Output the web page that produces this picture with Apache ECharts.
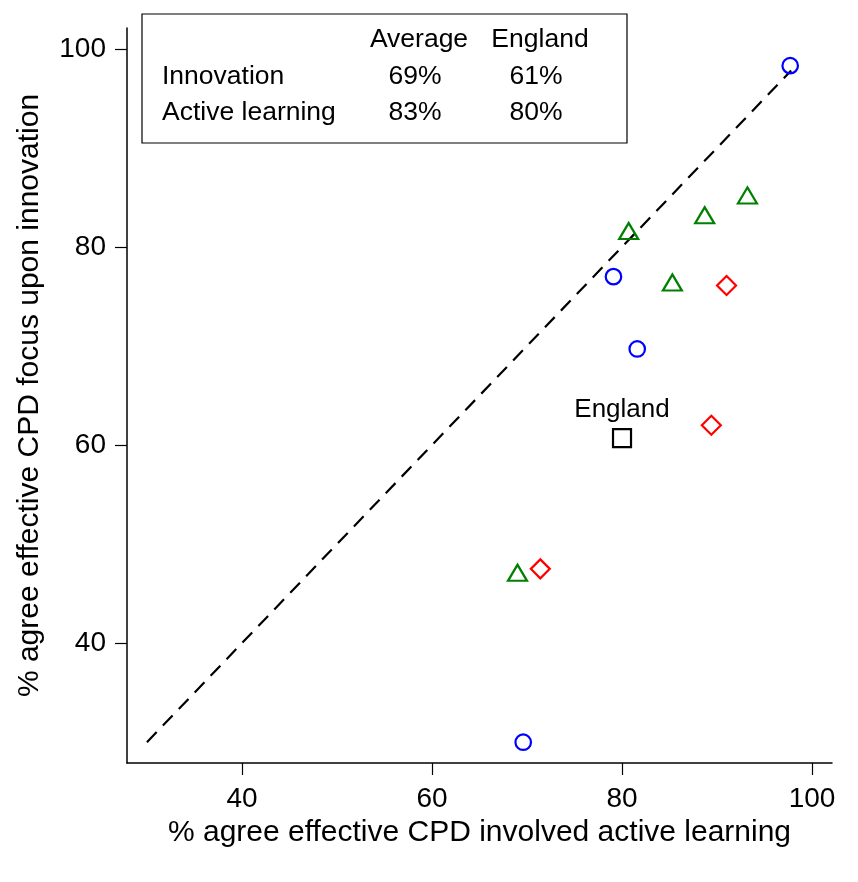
<!DOCTYPE html>
<html>
<head>
<meta charset="utf-8">
<script src="https://cdn.jsdelivr.net/npm/echarts@6/dist/echarts.min.js"></script>
<style>
  html, body { margin: 0; padding: 0; background: #fff; }
  #chart { width: 858px; height: 882px; }
</style>
</head>
<body>
<div id="chart"></div>
<script>
// points: [active learning %, innovation %]
const bluePoints = [[97.7, 98.3], [79.1, 77.0], [81.6, 69.7], [69.6, 30.0]];
const greenPoints = [[80.7, 81.6], [88.7, 83.2], [93.2, 85.2], [85.3, 76.4], [69.0, 47.1]];
const redPoints = [[91.0, 76.1], [89.4, 62.0], [71.4, 47.5]];
const englandPoint = [[80.0, 60.7]];
const equalLine = [[30, 30], [97.8, 97.8]];

const tickValues = [40, 60, 80, 100];

const tableHeader = ['Average', 'England'];
const tableRows = ['Innovation', 'Active learning'];
const tableValues = [['69%', '61%'], ['83%', '80%']];

const FONT = 'Liberation Sans, Arial, sans-serif';

const chart = echarts.init(document.getElementById('chart'));

function hollow(color) {
    return { color: 'rgba(0,0,0,0)', borderColor: color, borderWidth: 2.2, opacity: 1 };
}

// table in the top-left corner
const tableGraphics = [
    {
        type: 'rect',
        shape: { x: 142, y: 14, width: 485, height: 129 },
        style: { fill: '#fff', stroke: '#000', lineWidth: 1.2 }
    }
];
const colX = [419, 540];
const rowY = [77, 113];
tableHeader.forEach((h, i) => {
    tableGraphics.push({
        type: 'text', x: colX[i], y: 40,
        style: { text: h, font: '26.5px ' + FONT, fill: '#000', align: 'center', verticalAlign: 'middle' }
    });
});
tableRows.forEach((r, j) => {
    tableGraphics.push({
        type: 'text', x: 162, y: rowY[j],
        style: { text: r, font: '26.5px ' + FONT, fill: '#000', align: 'left', verticalAlign: 'middle' }
    });
    tableValues[j].forEach((v, i) => {
        tableGraphics.push({
            type: 'text', x: colX[i] - 4, y: rowY[j],
            style: { text: v, font: '26.5px ' + FONT, fill: '#000', align: 'center', verticalAlign: 'middle' }
        });
    });
});

function makeAxis(name, gap, labelMargin) {
    return {
        type: 'value',
        min: 27.9,
        max: 102.1,
        name: name,
        nameGap: gap,
        nameLocation: 'middle',
        nameTextStyle: { fontSize: 30, color: '#000', fontFamily: FONT },
        axisLine: { show: true, onZero: false, lineStyle: { color: '#000', width: 1.5 } },
        axisTick: { show: true, length: 12, customValues: tickValues, lineStyle: { color: '#000', width: 1.2 } },
        axisLabel: { fontSize: 28, color: '#000', fontFamily: FONT, margin: labelMargin, customValues: tickValues },
        splitLine: { show: false }
    };
}

const option = {
    animation: false,
    backgroundColor: '#fff',
    grid: { left: 127, right: 26, top: 28, bottom: 119, containLabel: false },
    xAxis: makeAxis('% agree effective CPD involved active learning', 53, 22),
    yAxis: makeAxis('% agree effective CPD focus upon innovation', 82, 21),
    graphic: tableGraphics,
    series: [
        {
            type: 'line',
            data: equalLine,
            symbol: 'none',
            lineStyle: { color: '#000', width: 2.2, type: [14, 9] },
            z: 1
        },
        {
            type: 'scatter', data: bluePoints, symbol: 'circle', symbolSize: 15.5,
            itemStyle: hollow('#0000ff'), z: 3
        },
        {
            type: 'scatter', data: greenPoints, symbol: 'triangle', symbolSize: [19, 16],
            itemStyle: hollow('#008000'), z: 3
        },
        {
            type: 'scatter', data: redPoints, symbol: 'diamond', symbolSize: 19,
            itemStyle: hollow('#ff0000'), z: 3
        },
        {
            type: 'scatter', data: englandPoint, symbol: 'rect', symbolSize: 18,
            itemStyle: hollow('#000'), z: 3,
            label: {
                show: true, position: 'top', distance: 5,
                formatter: 'England', fontSize: 26, color: '#000', fontFamily: FONT
            }
        }
    ]
};

chart.setOption(option);
</script>
</body>
</html>
